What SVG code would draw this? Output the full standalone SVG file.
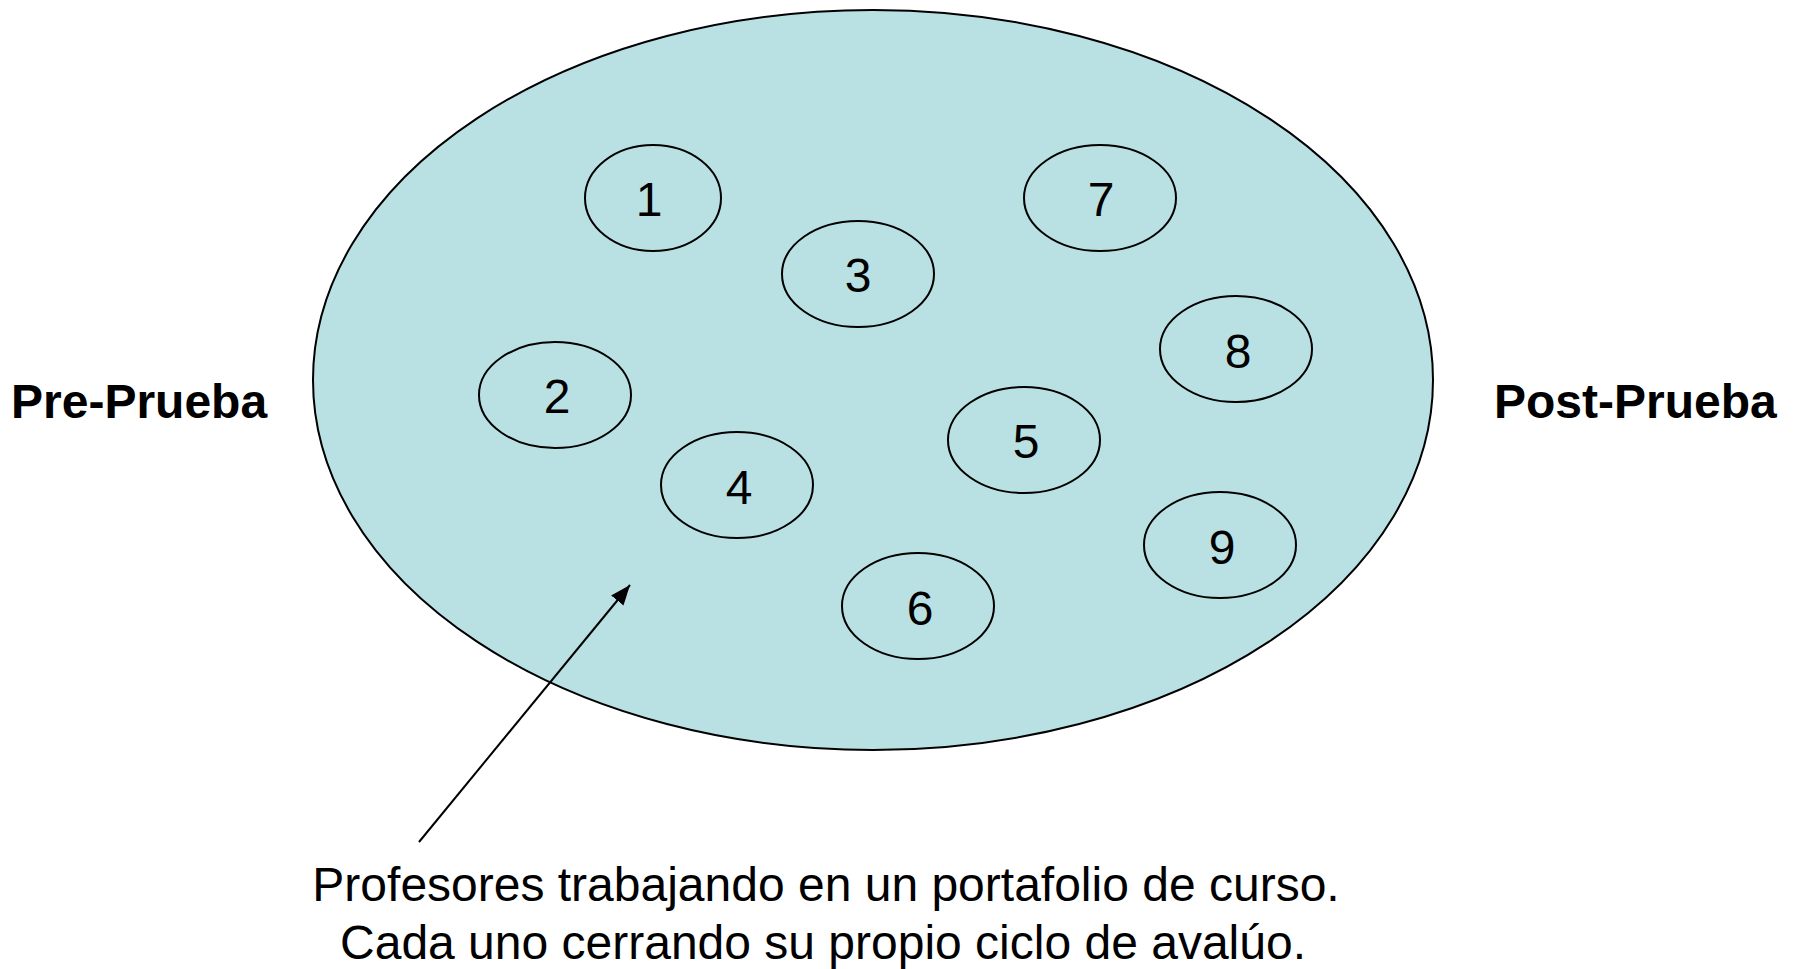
<svg xmlns="http://www.w3.org/2000/svg" width="1796" height="969" viewBox="0 0 1796 969">
<style>
.num{font-family:"Liberation Sans",Arial,sans-serif;font-size:48px;fill:#000;text-anchor:middle}
.side{font-family:"Liberation Sans",Arial,sans-serif;font-size:48px;font-weight:bold;fill:#000}
.cap{font-family:"Liberation Sans",Arial,sans-serif;font-size:48px;fill:#000;text-anchor:middle}
.small{fill:none;stroke:#000;stroke-width:2}
</style>
<defs>
<marker id="ah2" viewBox="0 0 20 16" refX="20" refY="8" markerWidth="20" markerHeight="16" markerUnits="userSpaceOnUse" orient="auto">
<path d="M0,0 L20,8 L0,16 z" fill="#000"/>
</marker>
</defs>
<rect width="1796" height="969" fill="#fff"/>
<g id="portfolio">
<ellipse cx="873" cy="380" rx="560" ry="370" fill="#B9E0E3" stroke="#000" stroke-width="2"/>
</g>
<g id="n1"><ellipse class="small" cx="653" cy="198" rx="68" ry="53"/><text class="num" x="649" y="216">1</text></g>
<g id="n2"><ellipse class="small" cx="555" cy="395" rx="76" ry="53"/><text class="num" x="557" y="413">2</text></g>
<g id="n3"><ellipse class="small" cx="858" cy="274" rx="76" ry="53"/><text class="num" x="858" y="292">3</text></g>
<g id="n4"><ellipse class="small" cx="737" cy="485" rx="76" ry="53"/><text class="num" x="739" y="504">4</text></g>
<g id="n5"><ellipse class="small" cx="1024" cy="440" rx="76" ry="53"/><text class="num" x="1026" y="458">5</text></g>
<g id="n6"><ellipse class="small" cx="918" cy="606" rx="76" ry="53"/><text class="num" x="920" y="625">6</text></g>
<g id="n7"><ellipse class="small" cx="1100" cy="198" rx="76" ry="53"/><text class="num" x="1101" y="216">7</text></g>
<g id="n8"><ellipse class="small" cx="1236" cy="349" rx="76" ry="53"/><text class="num" x="1238" y="368">8</text></g>
<g id="n9"><ellipse class="small" cx="1220" cy="545" rx="76" ry="53"/><text class="num" x="1222" y="564">9</text></g>
<g id="pre"><text class="side" x="11" y="418">Pre-Prueba</text></g>
<g id="post"><text class="side" x="1494" y="418">Post-Prueba</text></g>
<g id="caption">
<text class="cap" x="826" y="901">Profesores trabajando en un portafolio de curso.</text>
<text class="cap" x="823" y="959">Cada uno cerrando su propio ciclo de avalúo.</text>
</g>
<g id="connectors">
<line x1="419" y1="842" x2="630" y2="585" stroke="#000" stroke-width="2" marker-end="url(#ah2)"/>
</g>
</svg>
